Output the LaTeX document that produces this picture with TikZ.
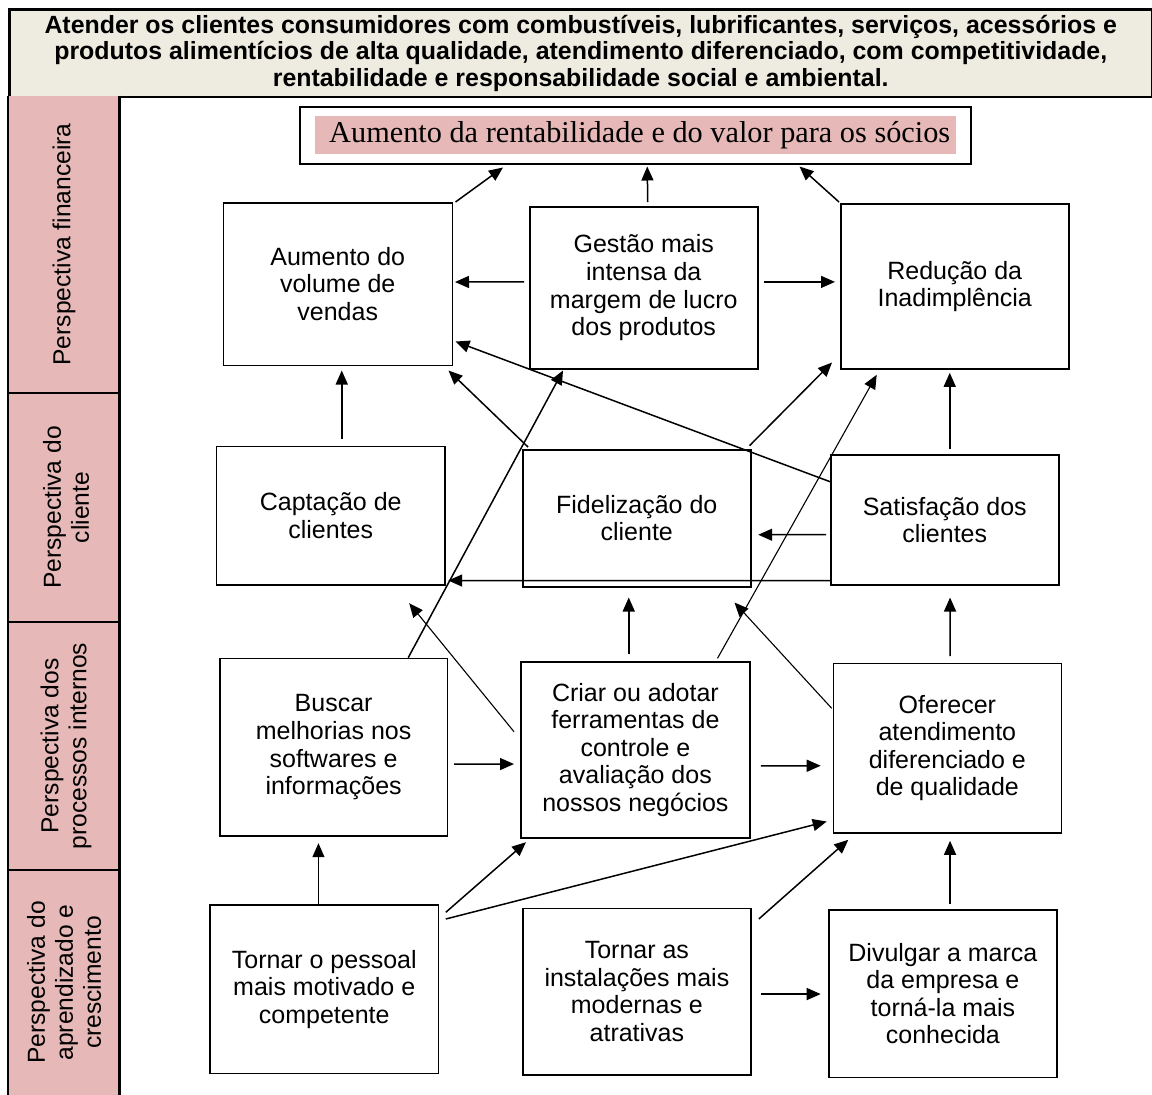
\documentclass[tikz,border=0pt]{standalone}
\usepackage{fontspec}
\setmainfont{Liberation Sans}
\newfontfamily\serifrm{Liberation Serif}
\usetikzlibrary{arrows.meta,calc}
\definecolor{pinkc}{HTML}{E6B9B8}
\definecolor{beigec}{HTML}{EEECE1}
\begin{document}
\begin{tikzpicture}[x=1pt,y=-1pt,
  box/.style={draw, line width=1.5pt, align=center, inner sep=0pt, anchor=north west,
    font=\fontsize{25}{27.6}\selectfont},
  arr/.style={line width=1.5pt, -{Triangle[length=14pt,width=12pt]}},
  thinarr/.style={line width=1.1pt, -{Triangle[length=14pt,width=12pt]}},
  lbl/.style={rotate=90, align=center, font=\fontsize{24.6}{28}\selectfont},
  frame/.style={line width=2.5pt}]
\useasboundingbox (0,0) rectangle (1152,1095);
\fill[white] (0,0) rectangle (1152,1095);
% header
\node (head) [draw, frame, fill=beigec, anchor=north west, minimum width=1143pt, minimum height=87.7pt,
  inner sep=0pt, align=center, font=\bfseries\fontsize{24.9}{26.6}\selectfont] at (8,8)
  {Atender os clientes consumidores com combustíveis, lubrificantes, serviços, acessórios e\\
   produtos alimentícios de alta qualidade, atendimento diferenciado, com competitividade,\\
   rentabilidade e responsabilidade social e ambiental.};
% left column
\fill[pinkc] (8,95.7) rectangle (119.3,1095);
\draw[frame] (8,95.7) -- (8,1096);
\draw[frame] (119.3,95.7) -- (119.3,1096);
\draw[frame] (8,393) -- (119.3,393);
\draw[frame] (8,622) -- (119.3,622);
\draw[frame] (8,870) -- (119.3,870);
\node (l1) [lbl] at (64,244.5) {Perspectiva financeira};
\node (l2) [lbl] at (66,507.5) {Perspectiva do\\cliente};
\node (l3) [lbl] at (66,746) {Perspectiva dos\\processos internos};
\node (l4) [lbl] at (64,982.5) {Perspectiva do\\aprendizado e\\crescimento};
% top objective
\node (top) [draw, line width=1.5pt, anchor=north west, minimum width=671pt, minimum height=57pt, inner sep=0pt] at (299,106) {};
\node (topin) [fill=pinkc, anchor=north west, minimum width=641pt, minimum height=38pt, inner sep=0pt,
  font=\serifrm\fontsize{30.3}{32}\selectfont] at (315,116) {\hspace*{8pt}Aumento da rentabilidade e do valor para os sócios};
% boxes
\node (vol) [box, minimum width=229pt, minimum height=162.5pt] at (222.5,202) {Aumento do\\volume de\\vendas};
\node (gest) [box, minimum width=228pt, minimum height=162.3pt] at (529,206) {Gestão mais\\intensa da\\margem de lucro\\dos produtos};
\node (red) [box, minimum width=228pt, minimum height=165.3pt] at (840,203) {Redução da\\Inadimplência};
\node (cap) [box, minimum width=228.6pt, minimum height=138.6pt] at (215.7,445.7) {Captação de\\clientes};
\node (fid) [box, minimum width=228pt, minimum height=137pt] at (522,449) {Fidelização do\\cliente};
\node (sat) [box, minimum width=228pt, minimum height=130.3pt] at (830,454) {Satisfação dos\\clientes};
\node (bus) [box, minimum width=227.7pt, minimum height=177.6pt] at (219,657.7) {Buscar\\melhorias nos\\softwares e\\informações};
\node (cri) [box, minimum width=229.3pt, minimum height=176.3pt] at (520,661) {Criar ou adotar\\ferramentas de\\controle e\\avaliação dos\\nossos negócios};
\node (ofe) [box, minimum width=227.8pt, minimum height=169.3pt] at (832.7,662.7) {Oferecer\\atendimento\\diferenciado e\\de qualidade};
\node (pes) [box, minimum width=228.4pt, minimum height=168.4pt] at (209.3,904.3) {Tornar o pessoal\\mais motivado e\\competente};
\node (ins) [box, minimum width=227.7pt, minimum height=166.3pt] at (522.3,907.7) {Tornar as\\instalações mais\\modernas e\\atrativas};
\node (div) [box, minimum width=227.7pt, minimum height=167.7pt] at (828.3,909) {Divulgar a marca\\da empresa e\\torná-la mais\\conhecida};
% connectors
\draw[arr] ($(vol.north east)+(2.5,0)$) -- ($(top.south west)+(204,3)$);
\draw[arr] ($(gest.north)+(4,-4)$) -- ($(top.south)+(12,2)$);
\draw[arr] ($(red.north west)+(-1,-1)$) -- ($(top.south east)+(-172,2)$);
\draw[arr] ($(gest.west)+(-5,-6)$) -- ($(vol.east)+(2,-2)$);
\draw[arr] ($(gest.east)+(5.7,-6)$) -- ($(red.west)+(-5,-4.5)$);
\draw[arr] ($(cap.north)+(11,-6.7)$) -- ($(vol.south)+(4,4.5)$);
\draw[arr] ($(fid.north west)+(6,-2)$) -- ($(vol.south east)+(-4.5,4.5)$);
\draw[arr] ($(sat.north west)+(0,27.7)$) -- ($(vol.south east)+(2.5,-24.5)$);
\draw[arr] ($(bus.north east)+(-40,0)$) -- ($(gest.south west)+(34,0.7)$);
\draw[arr] ($(fid.north east)+(-2,-3.3)$) -- ($(red.south west)+(-8,-7.3)$);
\draw[thinarr] ($(cri.north east)+(-33.3,-2.7)$) -- ($(red.south west)+(36.7,5)$);
\draw[arr] ($(sat.north)+(5,-5)$) -- ($(red.south)+(-5,3)$);
\draw[arr] ($(sat.west)+(-4,14.8)$) -- ($(fid.east)+(6.7,16.5)$);
\draw[arr] ($(sat.south west)+(0,-5.3)$) -- ($(cap.south east)+(2.4,-5.3)$);
\draw[arr] ($(cri.north)+(-6.65,-7)$) -- ($(fid.south)+(-8,10)$);
\draw[thinarr] ($(ofe.north west)+(-1,45.6)$) -- ($(fid.south east)+(-17,15)$);
\draw[thinarr] ($(cri.north west)+(-6,70.7)$) -- ($(cap.south east)+(-36.6,17.4)$);
\draw[arr] ($(bus.east)+(6,16.8)$) -- ($(cri.west)+(-6,14.15)$);
\draw[arr] ($(cri.east)+(10,15.85)$) -- ($(ofe.west)+(-12,17.65)$);
\draw[arr] ($(ofe.north)+(2.7,-6.7)$) -- ($(sat.south)+(5.3,11.7)$);
\draw[thinarr] ($(pes.north)+(-5.8,0)$) -- ($(bus.south)+(-15.15,6.4)$);
\draw[arr] ($(pes.north east)+(6.6,8)$) -- ($(cri.south west)+(6,3.4)$);
\draw[arr] ($(pes.north east)+(6.6,14.7)$) -- ($(ofe.south west)+(-6,-12)$);
\draw[arr] ($(ins.north east)+(7.3,11.3)$) -- ($(ofe.south west)+(15.6,6.3)$);
\draw[arr] ($(ins.east)+(9.3,2.45)$) -- ($(div.west)+(-7.6,0.45)$);
\draw[arr] ($(div.north)+(7.15,-4.7)$) -- ($(ofe.south)+(2.7,7.3)$);
\end{tikzpicture}
\end{document}
